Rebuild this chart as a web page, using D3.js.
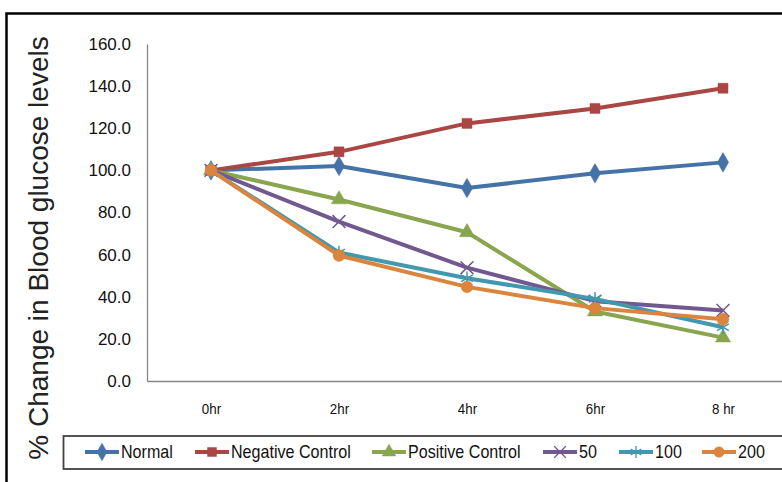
<!DOCTYPE html>
<html><head><meta charset="utf-8">
<script src="https://cdn.jsdelivr.net/npm/d3@7"></script>
<style>html,body{margin:0;padding:0;background:#fff;}svg{display:block;}</style>
</head><body>
<svg id="chart" width="782" height="482"></svg>
<script>
const categories = ["0hr", "2hr", "4hr", "6hr", "8 hr"];
const yTicks = [0, 20, 40, 60, 80, 100, 120, 140, 160];
const seriesNames = ["Normal", "Negative Control", "Positive Control", "50", "100", "200"];
const normal = [100, 102.1, 91.6, 98.6, 103.8];
const negativeControl = [100, 108.8, 122.3, 129.4, 139.0];
const positiveControl = [100, 86.2, 70.6, 33.0, 20.6];
const dose50 = [100, 75.7, 53.8, 37.9, 33.5];
const dose100 = [100, 61.0, 48.8, 39.0, 25.5];
const dose200 = [100, 59.6, 44.7, 34.6, 29.3];
const seriesValues = [normal, negativeControl, positiveControl, dose50, dose100, dose200];
const colors = ["#4572A7", "#AA4643", "#89A54E", "#71588F", "#4198AF", "#DB843D"];
const symbols = [d3.symbolDiamond, d3.symbolSquare, d3.symbolTriangle, d3.symbolX, d3.symbolAsterisk, d3.symbolCircle];
const symSizes = [110, 100, 100, 110, 130, 110];
const strokeSym = [false, false, false, true, true, false];

const narrowFont = "'Liberation Sans', Arial, sans-serif";
const squeeze = "scale(0.92,1)";
const svg = d3.select("#chart");

// outer frame
svg.append("rect").attr("x", 6.5).attr("y", 13.5).attr("width", 800).attr("height", 500)
  .attr("fill", "none").attr("stroke", "#000").attr("stroke-width", 2.5);

const x = d3.scalePoint().domain(categories).range([147, 787]).padding(0.5);
const y = d3.scaleLinear().domain([0, 160]).range([381, 44]);

// axes
const yAxis = svg.append("g").attr("transform", "translate(147,0)")
  .call(d3.axisLeft(y).tickValues(yTicks).tickFormat(d3.format(".1f")).tickSize(0).tickPadding(16));
yAxis.select(".domain").attr("stroke", "#868686").attr("stroke-width", 1.3);
yAxis.selectAll("text").attr("font-family", "'Liberation Sans', Arial, sans-serif").attr("font-size", 17).attr("fill", "#111");

const xAxis = svg.append("g").attr("transform", "translate(0,381)")
  .call(d3.axisBottom(x).tickSize(0).tickPadding(23));
xAxis.select(".domain").attr("stroke", "#868686").attr("stroke-width", 1.3);
xAxis.selectAll("text").attr("font-family", narrowFont).attr("font-size", 14.5)
  .attr("fill", "#111").attr("transform", squeeze);

// y title
svg.append("text").attr("transform", "translate(48,248) rotate(-90)")
  .attr("text-anchor", "middle").attr("font-family", "'Liberation Sans', Arial, sans-serif")
  .attr("font-size", 28).attr("fill", "#222").text("% Change in Blood glucose levels");

const line = d3.line().x((d, i) => x(categories[i])).y(d => y(d));

seriesValues.forEach((vals, s) => {
  const g = svg.append("g");
  g.append("path").datum(vals).attr("d", line).attr("fill", "none")
    .attr("stroke", colors[s]).attr("stroke-width", 4).attr("stroke-linejoin", "round");
  g.selectAll("path.m").data(vals).enter().append("path").attr("class", "m")
    .attr("transform", (d, i) => `translate(${x(categories[i])},${y(d)})`)
    .attr("d", d3.symbol().type(symbols[s]).size(symSizes[s]))
    .attr("fill", strokeSym[s] ? "none" : colors[s])
    .attr("stroke", colors[s]).attr("stroke-width", strokeSym[s] ? 1.5 : 0.5);
});

// legend
svg.append("rect").attr("x", 63.5).attr("y", 436).attr("width", 760).attr("height", 33)
  .attr("fill", "#fff").attr("stroke", "#404040").attr("stroke-width", 1.8);
const legX = [85, 195, 372, 543, 619, 702];
const legY = 452;
seriesNames.forEach((name, s) => {
  const g = svg.append("g");
  g.append("line").attr("x1", legX[s]).attr("x2", legX[s] + 34).attr("y1", legY).attr("y2", legY)
    .attr("stroke", colors[s]).attr("stroke-width", 4);
  g.append("path").attr("transform", `translate(${legX[s] + 17},${legY})`)
    .attr("d", d3.symbol().type(symbols[s]).size(symSizes[s] * 0.8))
    .attr("fill", strokeSym[s] ? "none" : colors[s])
    .attr("stroke", colors[s]).attr("stroke-width", strokeSym[s] ? 1.3 : 0.5);
  g.append("g").attr("transform", `translate(${legX[s] + 36},${legY})`)
    .append("text").attr("transform", squeeze).attr("dy", "0.36em")
    .attr("font-family", narrowFont)
    .attr("font-size", 17.5).attr("fill", "#111").text(name);
});
</script>
</body></html>
